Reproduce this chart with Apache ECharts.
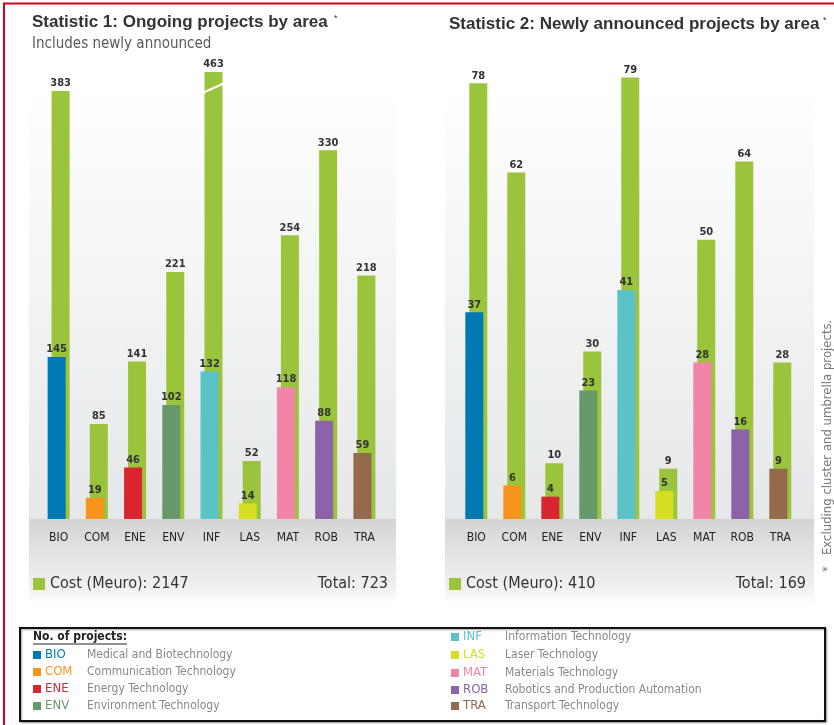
<!DOCTYPE html>
<html>
<head>
<meta charset="utf-8">
<script src="https://cdn.jsdelivr.net/npm/echarts@6/dist/echarts.min.js"></script>
<style>
html,body{margin:0;padding:0;background:#fff;}
#main{width:834px;height:725px;}
</style>
</head>
<body>
<div id="main"></div>
<script>
// ---- data ----
const categories = ['BIO','COM','ENE','ENV','INF','LAS','MAT','ROB','TRA'];
const areaNames = ['Medical and Biotechnology','Communication Technology','Energy Technology','Environment Technology','Information Technology','Laser Technology','Materials Technology','Robotics and Production Automation','Transport Technology'];
const areaColors = ['#0078b2','#f7941e','#d9252e','#66996a','#59c3c5','#d6df22','#f285a7','#8e62a9','#936a4b'];
const costColor = '#99c43c';
const ongoingCount = [145,19,46,102,132,14,118,88,59];
const ongoingCost  = [383,85,141,221,463,52,254,330,218];
const newCount = [37,6,4,23,41,5,28,16,9];
const newCost  = [78,62,10,30,79,9,50,64,28];
const axisMax1 = 400;   // chart 1 axis is broken above this
const axisMax2 = 80;

const sum = a => a.reduce((s,v)=>s+v,0);
const narrow = "'Liberation Sans Narrow','DejaVu Sans Condensed',sans-serif";
const sans = "'Liberation Sans',Arial,sans-serif";

const chart = echarts.init(document.getElementById('main'), null, {renderer:'canvas'});

function countSeries(data, idx){
  return {
    type:'bar', xAxisIndex:idx, yAxisIndex:idx, z:4,
    barWidth:18, barGap:'-78%',
    data: data.map((v,i)=>({value:v, itemStyle:{color:areaColors[i]}})),
    label:{show:true, position:'top', distance:2, color:'#333', fontFamily:narrow, fontWeight:'bold', fontSize:11},
    silent:true
  };
}
function costSeries(data, idx){
  return {
    type:'bar', xAxisIndex:idx, yAxisIndex:idx, z:3, clip:true,
    barWidth:18, barGap:'-78%',
    data: data,
    itemStyle:{color:costColor},
    label:{show:true, position:'top', distance:2, color:'#333', fontFamily:narrow, fontWeight:'bold', fontSize:11},
    silent:true
  };
}
const xAxisCommon = {
  type:'category', data:categories,
  axisLine:{show:false}, axisTick:{show:false},
  axisLabel:{color:'#222', fontFamily:narrow, fontSize:12, margin:13}
};
const yAxisCommon = {type:'value', min:0, show:false, splitLine:{show:false}};

// background decorations
const bg = [];
function panel(x0, x1){
  bg.push({type:'rect', z:-10, silent:true, shape:{x:x0,y:87,width:x1-x0,height:432},
    style:{fill:new echarts.graphic.LinearGradient(0,0,0,1,[{offset:0,color:'#ffffff'},{offset:1,color:'#e6e7e8'}])}});
  bg.push({type:'rect', z:-10, silent:true, shape:{x:x0,y:519,width:x1-x0,height:85},
    style:{fill:new echarts.graphic.LinearGradient(0,0,0,1,[{offset:0,color:'#d3d4d5'},{offset:0.45,color:'#e4e5e6'},{offset:0.8,color:'#f0f0f0'},{offset:1,color:'#ffffff'}])}});
}
panel(29,396);
panel(445,814);

const texts = [];
// titles
texts.push({type:'text', left:32, top:14, style:{text:'Statistic 1: Ongoing projects by area', font:"bold 17px "+sans, fill:'#333'}});
texts.push({type:'text', left:334, top:14, style:{text:'*', font:"9px "+sans, fill:'#333'}});
texts.push({type:'text', left:32, top:37, style:{text:'Includes newly announced', font:"15px "+narrow, fill:'#5a5a5a'}});
texts.push({type:'text', left:449, top:16, style:{text:'Statistic 2: Newly announced projects by area', font:"bold 17px "+sans, fill:'#333'}});
texts.push({type:'text', left:823, top:16, style:{text:'*', font:"9px "+sans, fill:'#333'}});

// cost legends inside panels
function costLegend(x0, x1, cost, count){
  texts.push({type:'rect', shape:{x:x0+4,y:578,width:12,height:12}, style:{fill:costColor}});
  texts.push({type:'text', x:x0+21, y:584, style:{text:'Cost (Meuro): '+cost, font:"16px "+narrow, fill:'#333', verticalAlign:'middle'}});
  texts.push({type:'text', x:x1-8, y:584, style:{text:'Total: '+count, font:"16px "+narrow, fill:'#333', align:'right', verticalAlign:'middle'}});
}
costLegend(29,396,sum(ongoingCost),sum(ongoingCount));
costLegend(445,814,sum(newCost),sum(newCount));

// footnote
texts.push({type:'text', x:828, y:572, rotation:Math.PI/2, style:{text:'*   Excluding cluster and umbrella projects.', font:"13px "+narrow, fill:'#777', verticalAlign:'middle'}});

// red frame
texts.push({type:'line', shape:{x1:3,y1:3.5,x2:834,y2:3.5}, style:{stroke:'#d0021b', lineWidth:2}});
texts.push({type:'line', shape:{x1:4,y1:3,x2:4,y2:725}, style:{stroke:'#d0021b', lineWidth:2}});

// legend box
texts.push({type:'rect', shape:{x:20,y:628,width:805,height:93}, style:{fill:'#fff', stroke:'#111', lineWidth:2, shadowColor:'rgba(0,0,0,0.35)', shadowBlur:2, shadowOffsetX:1, shadowOffsetY:1}});
texts.push({type:'text', x:33, y:637, style:{text:'No. of projects:', font:"bold 12px "+narrow, fill:'#222', verticalAlign:'middle'}});
texts.push({type:'line', shape:{x1:33,y1:644,x2:127,y2:644}, style:{stroke:'#222', lineWidth:1}});
const rowsLeft = [655,672,689,706];
const rowsRight = [637,655,673,690,706];
categories.forEach((c,i)=>{
  let x0, y;
  if(i<4){ x0=33; y=rowsLeft[i]; } else { x0=451; y=rowsRight[i-4]; }
  texts.push({type:'rect', shape:{x:x0,y:y-4,width:8,height:8}, style:{fill:areaColors[i]}});
  texts.push({type:'text', x:x0+12, y:y, style:{text:c, font:"13px "+narrow, fill:areaColors[i], verticalAlign:'middle'}});
  texts.push({type:'text', x:x0+54, y:y, style:{text:areaNames[i], font:"12px "+narrow, fill:'#888', verticalAlign:'middle'}});
});

const option = {
  animation:false,
  backgroundColor:'#fff',
  grid:[
    {left:39.5, top:72, width:344, height:447},
    {left:457.3, top:72, width:342, height:447}
  ],
  xAxis:[Object.assign({gridIndex:0}, xAxisCommon), Object.assign({gridIndex:1}, xAxisCommon)],
  yAxis:[Object.assign({gridIndex:0, max:axisMax1}, yAxisCommon), Object.assign({gridIndex:1, max:axisMax2}, yAxisCommon)],
  series:[
    countSeries(ongoingCount,0), costSeries(ongoingCost,0),
    countSeries(newCount,1), costSeries(newCost,1)
  ],
  graphic: bg.concat(texts)
};
chart.setOption(option);

// axis-break marker on bars exceeding the axis maximum
const breaks = [];
ongoingCost.forEach((v,i)=>{
  if(v > axisMax1){
    const p = chart.convertToPixel({xAxisIndex:0, yAxisIndex:0}, [categories[i], axisMax1]);
    const cx = p[0] + 2, ty = p[1];
    breaks.push({type:'line', z:20, silent:true, shape:{x1:cx-11, y1:ty+21, x2:cx+11, y2:ty+11}, style:{stroke:'#fff', lineWidth:2}});
  }
});
chart.setOption({graphic: bg.concat(texts).concat(breaks)}, {replaceMerge:['graphic']});
</script>
</body>
</html>
